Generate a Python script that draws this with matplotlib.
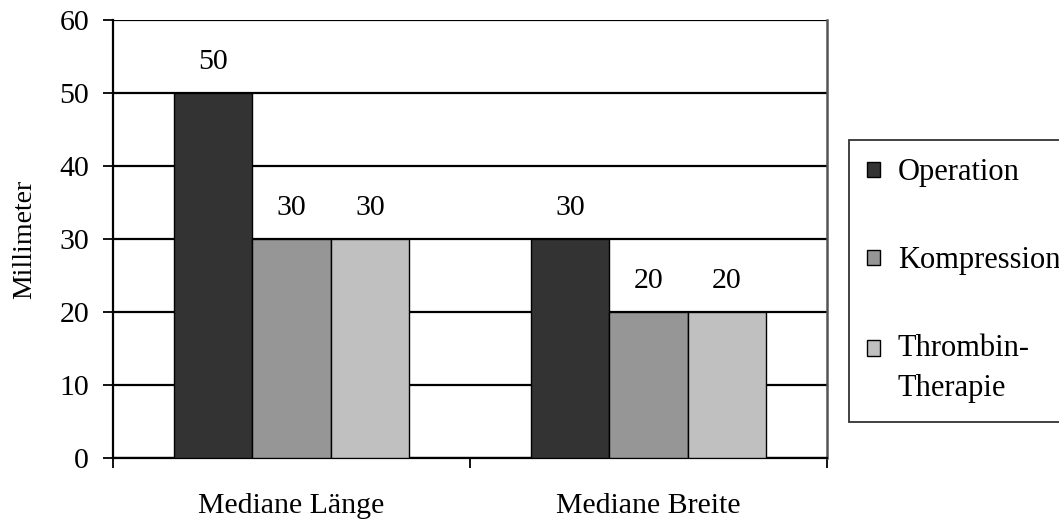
import numpy as np
import matplotlib
matplotlib.use('Agg')
import matplotlib.pyplot as plt

plt.rcParams['font.family'] = ['Liberation Serif', 'DejaVu Serif']

categories = ['Mediane Länge', 'Mediane Breite']
series = ['Operation', 'Kompression', 'Thrombin-\nTherapie']
values = [[50, 30], [30, 20], [30, 20]]
colors = ['#333333', '#969696', '#c0c0c0']
yticks = [0, 10, 20, 30, 40, 50, 60]

fs = 21.5

fig = plt.figure(figsize=(10.59, 5.21), dpi=100)
ax = fig.add_axes([113 / 1059, 63 / 521, 714 / 1059, 438 / 521])

x = np.arange(len(categories))
w = 0.22
for i, (name, vals, c) in enumerate(zip(series, values, colors)):
    bars = ax.bar(x + (i - 1) * w, vals, w, color=c, edgecolor='black',
                  linewidth=1.0, label=name, zorder=3)
    for b, v in zip(bars, vals):
        ax.annotate(str(v), (b.get_x() + b.get_width() / 2, v),
                    xytext=(0, 17), textcoords='offset points',
                    ha='center', va='baseline', fontsize=fs)

ax.set_ylim(0, 60)
ax.set_yticks(yticks)
ax.set_xlim(-0.5, 1.5)
ax.yaxis.grid(True, color='black', linewidth=1.6, zorder=0)
ax.set_axisbelow(True)

# category boundaries get the tick marks, names sit in between
ax.set_xticks([-0.5, 0.5, 1.5])
ax.set_xticklabels([])
ax.set_xticks(x, minor=True)
ax.set_xticklabels(categories, minor=True, fontsize=fs)
ax.tick_params(axis='x', which='minor', length=0, pad=25)
ax.tick_params(axis='x', which='major', length=7.2, width=1.3, direction='out')
ax.tick_params(axis='y', length=7.2, width=1.3, labelsize=fs, pad=10)

ax.spines['top'].set_visible(False)
ax.spines['right'].set_color('#555555')
ax.spines['right'].set_linewidth(1.8)
ax.spines['left'].set_linewidth(1.6)
ax.spines['bottom'].set_linewidth(1.6)

ax.set_ylabel('Millimeter', fontsize=20, labelpad=16)

leg = fig.legend(loc='upper left', bbox_to_anchor=(849 / 1059, 1 - 140 / 521),
                 fontsize=22, frameon=True, fancybox=False, edgecolor='black',
                 handlelength=0.4, handleheight=0.4, handletextpad=0.6,
                 labelspacing=1.93, borderpad=0.6, borderaxespad=0)
leg.get_frame().set_linewidth(1.3)
leg.get_texts()[2].set_linespacing(1.5)
# put the swatch level with the first line of the two-line label
h = leg.legend_handles[2]
h.set_y(h.get_y() + 15)

fig.savefig('out.png', dpi=100)
